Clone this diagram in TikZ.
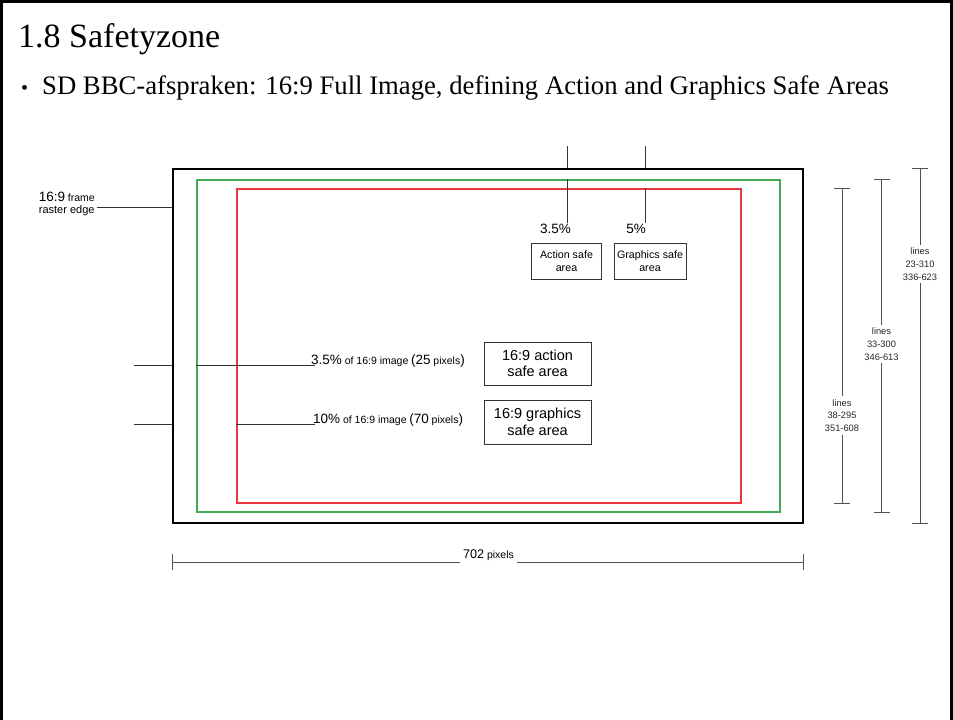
\documentclass[tikz,border=0pt]{standalone}
\usepackage{fontspec}
\setmainfont{Liberation Serif}
\setsansfont{Liberation Sans}
\usetikzlibrary{arrows.meta,positioning,calc}
\definecolor{safegreen}{HTML}{45AA55}
\definecolor{safered}{HTML}{E8373F}
\definecolor{leadgray}{HTML}{333333}
\definecolor{dimgray}{HTML}{505050}
\newcommand{\bigsz}{\fontsize{13.5}{16}\selectfont}
\newcommand{\smallsz}{\fontsize{10.5}{12}\selectfont}

\begin{document}
\begin{tikzpicture}[x=1pt,y=-1pt, every node/.style={font=\sffamily},
    leader/.style={draw=leadgray,line width=0.9pt},
    dimline/.style={draw=dimgray,line width=0.9pt},
    dimtext/.style={font=\sffamily\fontsize{9.3}{12.8}\selectfont,align=center,inner sep=3pt,text=black!85},
    areabox/.style={draw=leadgray,line width=0.9pt,align=center,inner sep=0pt}]
        \useasboundingbox (0,0) rectangle (953,720);
        % slide border
        \draw[line width=3pt] (1.5,720) -- (1.5,1.5) -- (951.5,1.5) -- (951.5,720);
        \node[anchor=base west,inner sep=0pt,font=\rmfamily\fontsize{34}{40}\selectfont] (title) at (18,47) {1.8 Safetyzone};
        \node[anchor=base west,inner sep=0pt,font=\rmfamily\fontsize{20}{24}\selectfont] (dot) at (21,94) {\textbullet};
        \node[anchor=base west,inner sep=0pt,font=\rmfamily\fontsize{26.7}{30}\selectfont] (intro) at (42,94) {SD BBC-afspraken: 16:9 Full Image, defining Action and Graphics Safe Areas};

        % the three frames
        \node[draw=black,line width=2pt,minimum width=630pt,minimum height=354pt,inner sep=0pt] (raster) at (488,346) {};
        \node[draw=safegreen,line width=1.3pt,minimum width=583pt,minimum height=332pt,inner sep=0pt] (actsafe) at (488.5,346) {};
        \node[draw=safered,line width=1.3pt,minimum width=504pt,minimum height=314pt,inner sep=0pt] (gfxsafe) at (489,346) {};

        % raster edge label
        \node[align=left,inner sep=0pt,anchor=east] (edgelbl) at (95,204) {{\bigsz 16:9} {\smallsz frame}\\{\fontsize{11}{12}\selectfont raster edge}};
        \coordinate (edgetip) at (97,207);
        \draw[leader] (edgetip) -- (edgetip -| raster.west);

        % percentages at the top
        \coordinate (acttop) at (567,146);
        \coordinate (gfxtop) at (645,146);
        \node[font=\sffamily\bigsz,inner sep=1pt] (actpct) at (555.5,229) {3.5\%};
        \node[font=\sffamily\bigsz,inner sep=1pt] (gfxpct) at (636,229) {5\%};
        \draw[leader] (acttop) -- (acttop |- raster.north);
        \draw[leader] (actsafe.north -| acttop) -- (acttop |- actpct.north);
        \draw[leader] (gfxtop) -- (gfxtop |- raster.north);
        \draw[leader] (gfxsafe.north -| gfxtop) -- (gfxtop |- gfxpct.north);
        \node[areabox,font=\sffamily\fontsize{10.7}{13.6}\selectfont,minimum width=70pt,minimum height=36pt] (actbox) at (566.5,261) {Action safe\\area};
        \node[areabox,font=\sffamily\fontsize{10.7}{13.6}\selectfont,minimum width=72pt,minimum height=36pt] (gfxbox) at (650,261) {Graphics safe\\area};

        % margins on the left
        \coordinate (acttip) at (134,365);
        \coordinate (gfxtip) at (134,424);
        \node[anchor=base west,inner sep=0pt] (actlbl) at (311,364) {{\bigsz 3.5\%} {\smallsz of 16:9 image} {\bigsz (25} {\smallsz pixels}{\bigsz )}};
        \node[anchor=base west,inner sep=0pt] (gfxlbl) at (313,423) {{\bigsz 10\%} {\smallsz of 16:9 image} {\bigsz (70} {\smallsz pixels}{\bigsz )}};
        \draw[leader] (acttip) -- (acttip -| raster.west);
        \draw[leader] (acttip -| actsafe.west) -- ([xshift=4pt]actlbl.base west |- acttip);
        \draw[leader] (gfxtip) -- (gfxtip -| raster.west);
        \draw[leader] (gfxtip -| gfxsafe.west) -- ([xshift=2pt]gfxlbl.base west |- gfxtip);
        \node[areabox,font=\sffamily\fontsize{14.5}{16.5}\selectfont,minimum width=107pt,minimum height=43pt] (actarea) at (537.5,363.5) {16:9 action\\safe area};
        \node[areabox,font=\sffamily\fontsize{14.5}{16.5}\selectfont,minimum width=107pt,minimum height=44pt] (gfxarea) at (537.5,422) {16:9 graphics\\safe area};

        % line counts on the right
        \node[dimtext] (dimred) at (842,415.5) {lines\\38-295\\351-608};
        \node[dimtext] (dimgreen) at (881.5,344) {lines\\33-300\\346-613};
        \node[dimtext] (dimblack) at (920,264) {lines\\23-310\\336-623};
        \draw[dimline,{Bar[width=16pt]}-] (gfxsafe.north -| dimred) -- (dimred.north);
        \draw[dimline,-{Bar[width=16pt]}] (dimred.south) -- (gfxsafe.south -| dimred);
        \draw[dimline,{Bar[width=16pt]}-] (actsafe.north -| dimgreen) -- (dimgreen.north);
        \draw[dimline,-{Bar[width=16pt]}] (dimgreen.south) -- (actsafe.south -| dimgreen);
        \draw[dimline,{Bar[width=16pt]}-] (raster.north -| dimblack) -- (dimblack.north);
        \draw[dimline,-{Bar[width=16pt]}] (dimblack.south) -- (raster.south -| dimblack);

        % width along the bottom
        \coordinate (pixrow) at (0,562);
        \node[anchor=base west,inner sep=3pt] (pixlbl) at (460,558) {{\fontsize{12.6}{14}\selectfont 702} {\smallsz pixels}};
        \draw[dimline,{Bar[width=16pt]}-] (raster.west |- pixrow) -- (pixlbl.west |- pixrow);
        \draw[dimline,-{Bar[width=16pt]}] (pixlbl.east |- pixrow) -- (raster.east |- pixrow);
      \end{tikzpicture}
\end{document}
